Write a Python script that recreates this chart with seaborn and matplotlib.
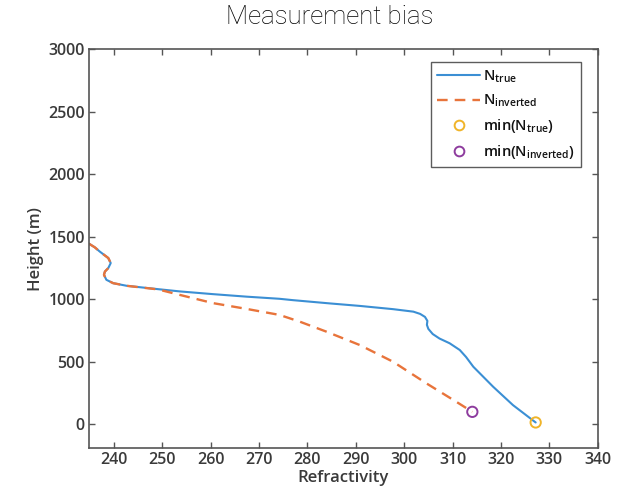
import matplotlib
matplotlib.use("Agg")
import matplotlib.pyplot as plt
import seaborn as sns
import pandas as pd
from matplotlib.lines import Line2D

# ---- data ----
true_refr = [234.8, 236.0, 237.0, 238.8, 239.3, 238.8, 238.1, 237.9, 238.4, 239.8,
             242.6, 249.1, 253.6, 260.5, 267.4, 274.2, 277.0, 284.6, 290.8, 297.7,
             301.9, 303.3, 304.3, 304.8, 304.7, 305.0, 305.9, 307.3, 309.4, 311.5,
             312.8, 314.3, 318.4, 322.5, 327.2]
true_height = [1444, 1415, 1382, 1329, 1289, 1249, 1221, 1195, 1155, 1128,
               1107, 1080, 1062, 1040, 1020, 1003, 992, 966, 946, 920,
               900, 882, 858, 826, 794, 762, 721, 685, 647, 593,
               537, 459, 299, 152, 13]

inv_refr = [234.8, 236.0, 237.0, 238.8, 239.3, 238.8, 238.1, 237.9, 238.4, 239.8,
            242.6, 249.1, 253.6, 260.5, 267.4, 274.2, 278.4, 283.9, 290.8, 297.7,
            304.6, 310.8, 314.1]
inv_height = [1444, 1415, 1382, 1329, 1289, 1249, 1221, 1195, 1155, 1128,
              1107, 1078, 1034, 968, 922, 874, 820, 740, 633, 499,
              326, 178, 98]

min_true = (327.2, 13)
min_inv = (314.1, 98)

x_ticks = [240, 250, 260, 270, 280, 290, 300, 310, 320, 330, 340]
y_ticks = [0, 500, 1000, 1500, 2000, 2500, 3000]

labels = [r"N$_{\mathrm{true}}$", r"N$_{\mathrm{inverted}}$",
          r"min(N$_{\mathrm{true}}$)", r"min(N$_{\mathrm{inverted}}$)"]

c_true = "#3b8fd4"
c_inv = "#e8743b"
c_min_true = "#f0b429"
c_min_inv = "#8e3c9e"

sns.set_theme(style="white")
plt.rcParams["font.family"] = ["Open Sans", "DejaVu Sans"]
plt.rcParams["mathtext.fontset"] = "custom"
plt.rcParams["mathtext.rm"] = "Open Sans:semibold"

fig = plt.figure(figsize=(6.31, 4.98), dpi=100)
ax = fig.add_axes([0.141, 0.1, 0.806, 0.801])

df_true = pd.DataFrame({"x": true_refr, "y": true_height})
df_inv = pd.DataFrame({"x": inv_refr, "y": inv_height})

sns.lineplot(data=df_true, x="x", y="y", sort=False, estimator=None, ax=ax,
             color=c_true, linewidth=1.5)
sns.lineplot(data=df_inv, x="x", y="y", sort=False, estimator=None, ax=ax,
             color=c_inv, linewidth=1.7, linestyle=(0, (4.5, 3)))
sns.scatterplot(x=[min_true[0]], y=[min_true[1]], ax=ax, marker="o", s=55,
                facecolor="none", edgecolor=c_min_true, linewidth=1.4, zorder=5)
sns.scatterplot(x=[min_inv[0]], y=[min_inv[1]], ax=ax, marker="o", s=55,
                facecolor="none", edgecolor=c_min_inv, linewidth=1.4, zorder=5)

ax.set_xlim(234.8, 340)
ax.set_ylim(-193, 3000)
ax.set_xticks(x_ticks)
ax.set_yticks(y_ticks)
ax.tick_params(direction="in", length=4, width=1, color="#555555",
               top=True, right=True, bottom=True, left=True,
               labelsize=11.5, labelcolor="#3a3a3a", pad=3)
for lab in ax.get_xticklabels() + ax.get_yticklabels():
    lab.set_fontweight("semibold")
for s in ax.spines.values():
    s.set_color("#555555")
    s.set_linewidth(1.2)
    s.set_visible(True)

ax.set_xlabel("Refractivity", fontsize=12, fontweight="semibold", color="#3a3a3a", labelpad=1)
ax.set_ylabel("Height (m)", fontsize=12, fontweight="semibold", color="#3a3a3a", labelpad=3)
fig.suptitle("Measurement bias", x=0.523, y=0.99, fontsize=18.5,
             fontfamily=["Roboto", "DejaVu Sans"], fontweight="light", color="#000000")

handles = [
    Line2D([], [], color=c_true, linewidth=1.5),
    Line2D([], [], color=c_inv, linewidth=1.7, linestyle=(0, (4.5, 3))),
    Line2D([], [], linestyle="none", marker="o", markersize=7, markerfacecolor="none",
           markeredgecolor=c_min_true, markeredgewidth=1.4),
    Line2D([], [], linestyle="none", marker="o", markersize=7, markerfacecolor="none",
           markeredgecolor=c_min_inv, markeredgewidth=1.4),
]
leg = ax.legend(handles, labels, loc="upper right", bbox_to_anchor=(0.967, 0.968),
                borderaxespad=0, fancybox=False, frameon=True,
                prop={"size": 10.5, "weight": "semibold"},
                handlelength=3.0, labelspacing=0.55, handletextpad=0.2,
                borderpad=0.4)
leg.get_frame().set_edgecolor("#333333")
leg.get_frame().set_linewidth(1.0)
for t in leg.get_texts():
    t.set_color("#111111")

fig.savefig("out.png", dpi=100)
